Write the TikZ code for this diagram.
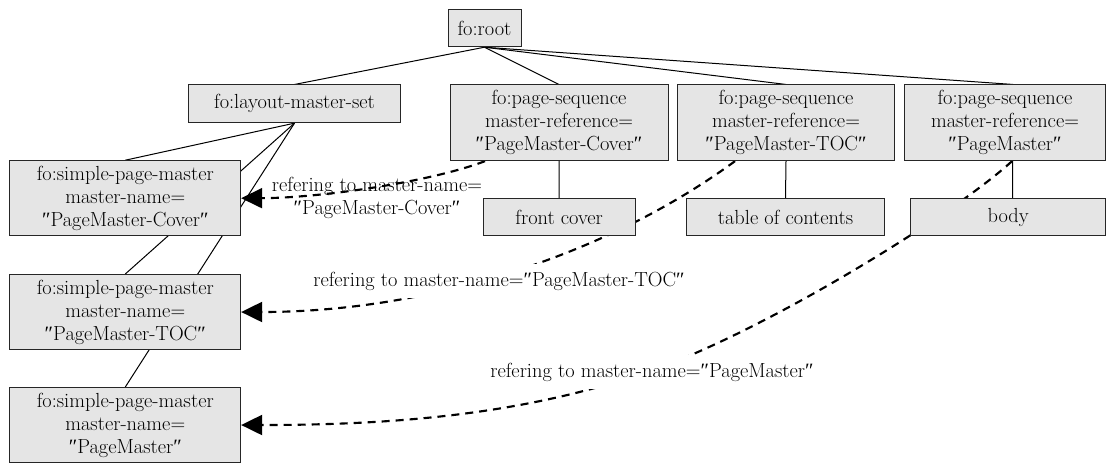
\documentclass[tikz,border=0pt]{standalone}
\usepackage{fontspec}
\newfontfamily\qfont{Liberation Serif}
\usetikzlibrary{arrows.meta,backgrounds,calc}
\newcommand{\dq}{{\qfont ″}}
\begin{document}
\begin{tikzpicture}[x=0.75pt,y=-0.75pt,
  txt/.style={font=\fontsize{15.3pt}{17.25pt}\selectfont},
  box/.style={txt, draw=black!85, fill=black!10, line width=0.75pt, inner sep=0pt, align=center},
  dims/.style 2 args={minimum width={#1*0.75pt}, minimum height={#2*0.75pt}},
  edge/.style={draw=black, line width=0.75pt},
  ref/.style={draw=black, line width=1.6pt, dash pattern=on 6pt off 4.5pt, -{Triangle[length=15.75pt,width=15pt]}},
  lbl/.style={txt, inner xsep=2pt, align=center}]
\useasboundingbox (0,0) rectangle (1110,462);

\node[box,dims={73}{37.4}] (root) at (484.5,28) {fo:root};
\node[box,dims={212.4}{37.7}] (lms) at (294.5,103.8) {fo:layout-master-set};
\node[box,dims={218}{75.7}] (ps1) at (559,122.8) {fo:page-sequence\\master-reference=\\\dq PageMaster-Cover\dq};
\node[box,dims={216.6}{75.7}] (ps2) at (786,122.8) {fo:page-sequence\\master-reference=\\\dq PageMaster-TOC\dq};
\node[box,dims={201.4}{75.7}] (ps3) at (1005,122.8) {fo:page-sequence\\master-reference=\\\dq PageMaster\dq};
\node[box,dims={151.7}{37.4}] (fc) at (559.2,217) {front cover};
\node[box,dims={197.6}{37.4}] (toc) at (785.5,217) {table of contents};
\node[box,dims={195}{37.4}] (body) at (1008.2,217) {body};
\node[box,dims={230.7}{75}] (spm1) at (125.3,198.2) {fo:simple-page-master\\master-name=\\\dq PageMaster-Cover\dq};
\node[box,dims={230.7}{75}] (spm2) at (125.3,312) {fo:simple-page-master\\master-name=\\\dq PageMaster-TOC\dq};
\node[box,dims={230.7}{75}] (spm3) at (125.3,425) {fo:simple-page-master\\master-name=\\\dq PageMaster\dq};

\begin{scope}[on background layer]
\fill[white] (0,0) rectangle (1110,462);
\draw[edge] (root.south) -- (lms.north);
\draw[edge] (root.south) -- (ps1.north);
\draw[edge] (root.south) -- (ps2.north);
\draw[edge] (root.south) -- ($(ps3.north)+(8,0)$);
\draw[edge] (lms.south) -- (spm1.north);
\draw[edge] (lms.south) -- (spm2.north);
\draw[edge] (lms.south) -- (spm3.north);
\draw[edge] (ps1.south) -- (fc.north);
\draw[edge] (ps2.south) -- (toc.north);
\draw[edge] ($(ps3.south)+(7.5,0)$) -- ($(body.north)+(4.5,0)$);
\draw[ref] ($(ps1.south)+(-74,0)$) .. controls (430,182) and (320,198) .. (spm1.east);
\draw[ref] ($(ps2.south)+(-51,0)$) .. controls (600,260) and (420,312) .. (spm2.east);
\draw[ref] ($(ps3.south)+(7,0)$) .. controls (952,216) and (763,332) .. (650,371)
  .. controls (527,413.6) and (400,425) .. (spm3.east);
\end{scope}

\node[lbl] (l1) at (377,198) {refering to master-name=\\\dq PageMaster-Cover\dq};
\node[lbl, fill=white, inner ysep=6pt] (l2) at (499,281) {refering to master-name=\dq PageMaster-TOC\dq};
\node[lbl, fill=white, inner ysep=6pt] (l3) at (652,372) {refering to master-name=\dq PageMaster\dq};
\end{tikzpicture}
\end{document}
